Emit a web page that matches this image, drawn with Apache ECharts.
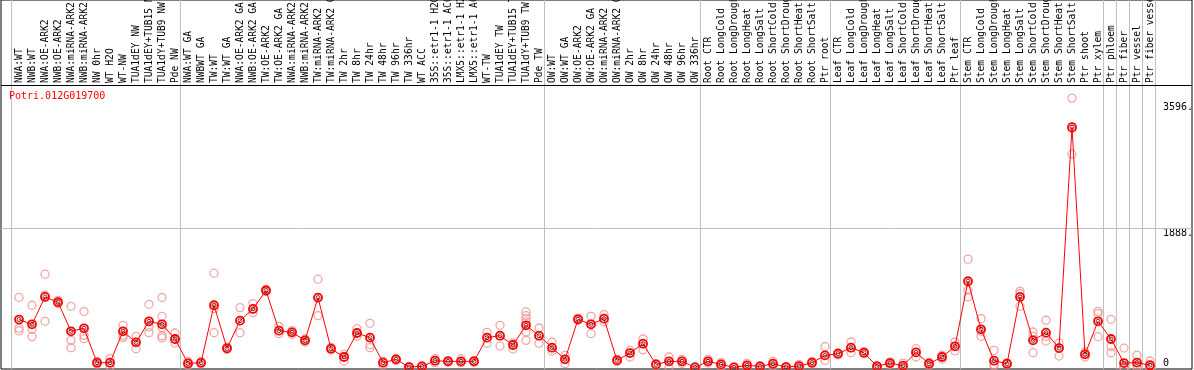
<!DOCTYPE html>
<html>
<head>
<meta charset="utf-8">
<script src="https://cdn.jsdelivr.net/npm/echarts@6/dist/echarts.min.js"></script>
<style>
  html, body { margin: 0; padding: 0; background: #fff; }
  #chart { width: 1194px; height: 370px; }
</style>
</head>
<body>
<div id="chart"></div>
<script>
var geneName = 'Potri.012G019700';

var labels = [
  'NWA:WT', 'NWB:WT', 'NWA:OE-ARK2', 'NWB:OE-ARK2', 'NWA:miRNA-ARK2', 'NWB:miRNA-ARK2',
  'NW 0hr', 'WT H2O', 'WT-NW', 'TUA1dEY NW', 'TUA1dEY+TUB15 NW', 'TUA1dY+TUB9 NW', 'Pde NW',
  'NWA:WT GA', 'NWBWT GA', 'TW:WT', 'TW:WT GA', 'NWA:OE-ARK2 GA', 'NWB:OE-ARK2 GA',
  'TW:OE-ARK2', 'TW:OE-ARK2 GA', 'NWA:miRNA-ARK2 GA', 'NWB:miRNA-ARK2 GA', 'TW:miRNA-ARK2',
  'TW:miRNA-ARK2 GA', 'TW 2hr', 'TW 8hr', 'TW 24hr', 'TW 48hr', 'TW 96hr', 'TW 336hr', 'WT ACC',
  '35S::etr1-1 H2O', '35S::etr1-1 ACC', 'LMX5::etr1-1 H2O', 'LMX5::etr1-1 ACC', 'WT-TW',
  'TUA1dEY TW', 'TUA1dEY+TUB15 TW', 'TUA1dY+TUB9 TW', 'Pde TW',
  'OW:WT', 'OW:WT GA', 'OW:OE-ARK2', 'OW:OE-ARK2 GA', 'OW:miRNA-ARK2', 'OW:miRNA-ARK2 GA',
  'OW 2hr', 'OW 8hr', 'OW 24hr', 'OW 48hr', 'OW 96hr', 'OW 336hr',
  'Root CTR', 'Root LongCold', 'Root LongDrought', 'Root LongHeat', 'Root LongSalt',
  'Root ShortCold', 'Root ShortDrought', 'Root ShortHeat', 'Root ShortSalt', 'Ptr root',
  'Leaf CTR', 'Leaf LongCold', 'Leaf LongDrought', 'Leaf LongHeat', 'Leaf LongSalt',
  'Leaf ShortCold', 'Leaf ShortDrought', 'Leaf ShortHeat', 'Leaf ShortSalt', 'Ptr leaf',
  'Stem CTR', 'Stem LongCold', 'Stem LongDrought', 'Stem LongHeat', 'Stem LongSalt',
  'Stem ShortCold', 'Stem ShortDrought', 'Stem ShortHeat', 'Stem ShortSalt', 'Ptr shoot',
  'Ptr xylem', 'Ptr phloem', 'Ptr fiber', 'Ptr vessel', 'Ptr fiber vessel'
];

// samples per experiment block (vertical separators)
var groupSizes = [13, 28, 12, 10, 10, 11, 1, 1, 1, 1];

var means = [
  650, 585, 957, 885, 490, 531, 64, 64, 490, 340, 626, 585, 386,
  54, 64, 844, 259, 635, 794, 1044, 499, 476, 367, 948, 254, 141, 467, 404, 64, 109, 5, 14,
  91, 82, 82, 82, 404, 431, 304, 572, 431,
  268, 109, 653, 585, 662, 95, 195, 322, 41, 82, 82, 0,
  82, 41, 0, 27, 14, 50, 5, 18, 64, 163,
  186, 268, 200, 14, 59, 23, 204, 50, 141, 286,
  1170, 517, 91, 50, 957, 367, 472, 263, 3262, 177, 626,
  386, 59, 66, 29
];

var reps = [
  [950, 530, 495], [844, 517, 418], [1266, 980, 626], [910, 870, 880], [830, 367, 268],
  [758, 435, 390], [80, 60, 45], [118, 60, 14], [572, 435, 408], [422, 340, 254],
  [857, 549, 472], [949, 694, 540, 430, 400], [467, 386, 331],
  [80, 54, 27], [75, 64, 50], [1279, 799, 472], [275, 259, 245], [812, 635, 472],
  [867, 794, 744], [1060, 1044, 1030], [558, 499, 458], [500, 476, 450], [390, 367, 345],
  [1198, 948, 703], [270, 254, 240], [177, 141, 86], [526, 467, 422], [599, 309, 268],
  [86, 64, 27], [120, 109, 95], [10, 5, 0], [20, 14, 8], [118, 91, 64], [95, 82, 70],
  [118, 82, 64], [95, 82, 70], [476, 404, 327], [572, 431, 290], [331, 304, 249],
  [753, 703, 662, 617, 481, 367], [535, 431, 327],
  [345, 268, 222], [163, 109, 50], [670, 653, 640], [694, 585, 458], [717, 662, 617],
  [110, 95, 80], [231, 195, 141], [386, 322, 240], [50, 41, 30], [141, 82, 5],
  [110, 82, 55], [10, 0, 0],
  [110, 82, 60], [65, 41, 20], [5, 0, 0], [55, 27, 10], [25, 14, 5], [82, 50, 18],
  [10, 5, 0], [40, 18, 5], [80, 64, 50], [281, 163, 95],
  [200, 186, 170], [345, 268, 200], [215, 200, 185], [25, 14, 5], [75, 59, 40],
  [59, 23, 0], [254, 204, 141], [70, 50, 30], [165, 141, 110], [345, 286, 222],
  [1470, 1048, 957], [662, 490, 422], [231, 40, 20], [60, 50, 40], [1034, 1000, 830],
  [481, 420, 200], [640, 420, 358], [330, 263, 154], [3657, 3240, 2895], [209, 177, 141],
  [761, 730, 417],
  [653, 281, 199], [263, 0, 0, 0], [168, 30, 0], [87, 0, 0]
];

var yTicks = [0, 1888, 3596];

// layout (pixels)
var W = 1194, gridL = 1, gridR = 2, gridT = 0, gridB = 1;
var colW = 13, firstX = 19, sepShift = 8;
var zeroY = 367.4, perPx = 13.58, headerY = 85;

var xMin = (gridL - firstX) / colW;
var xMax = (W - gridR - firstX) / colW;
var yMax = (zeroY - gridT) * perPx;
var yMin = -((370 - gridB) - zeroY) * perPx;
var headerVal = (zeroY - headerY) * perPx;

var meanData = means.map(function (v, i) { return [i, v]; });
var repData = [];
reps.forEach(function (arr, i) {
  arr.forEach(function (v) { repData.push([i, v]); });
});

var sepLines = [];
var acc = 0;
sepLines.push({ xAxis: acc - sepShift / colW });
groupSizes.forEach(function (n) {
  acc += n;
  sepLines.push({ xAxis: acc - sepShift / colW });
});
sepLines.push({ yAxis: 1888 });
sepLines.push({ yAxis: headerVal, lineStyle: { color: '#000' } });

var mono = '"DejaVu Sans Mono", "Liberation Mono", monospace';

var chart = echarts.init(document.getElementById('chart'));
var option = {
  animation: false,
  backgroundColor: '#fff',
  title: {
    text: geneName,
    left: 9,
    top: 91,
    padding: 0,
    textStyle: { color: '#ff0000', fontSize: 10, fontWeight: 'normal', fontFamily: mono }
  },
  grid: {
    left: gridL, right: gridR, top: gridT, bottom: gridB,
    show: true, borderColor: '#000', borderWidth: 1, backgroundColor: 'transparent',
    containLabel: false, outerBoundsMode: 'none'
  },
  xAxis: [{
    type: 'value', position: 'bottom', min: xMin, max: xMax,
    axisLine: { show: false }, axisTick: { show: false },
    axisLabel: { show: false }, splitLine: { show: false }
  }, {
    type: 'value', position: 'top', offset: -headerY, min: xMin, max: xMax,
    axisLine: { show: false }, axisTick: { show: false }, splitLine: { show: false },
    axisLabel: {
      customValues: labels.map(function (s, i) { return i; }),
      formatter: function (v) { return labels[Math.round(v)]; },
      rotate: -90, margin: 2, fontSize: 9.6, fontFamily: mono, color: '#000',
      hideOverlap: false
    }
  }],
  yAxis: {
    type: 'value', position: 'right', min: yMin, max: yMax,
    axisLine: { show: false }, axisTick: { show: false }, splitLine: { show: false },
    axisLabel: {
      inside: true, margin: 29, align: 'left',
      customValues: yTicks,
      formatter: function (v) {
        if (v === 0) return '{lo|0}';
        return '{hi|' + v + '.}';
      },
      rich: {
        hi: { fontSize: 10, fontFamily: mono, color: '#000', padding: [10, 0, 0, 0] },
        lo: { fontSize: 10, fontFamily: mono, color: '#000', padding: [0, 0, 8, 0] }
      }
    }
  },
  series: [{
    name: 'replicates',
    type: 'scatter',
    data: repData,
    symbol: 'circle',
    symbolSize: 8,
    itemStyle: { color: 'rgba(0,0,0,0)', borderColor: '#f09090', borderWidth: 1.3 },
    z: 2,
    markLine: {
      silent: true, symbol: 'none', label: { show: false },
      lineStyle: { color: '#c0c0c0', type: 'solid', width: 1 },
      data: sepLines,
      z: 1
    }
  }, {
    name: geneName,
    type: 'line',
    data: meanData,
    symbol: 'circle',
    symbolSize: 8,
    showAllSymbol: true,
    lineStyle: { color: '#ff0000', width: 1 },
    itemStyle: { color: 'rgba(0,0,0,0)', borderColor: '#ff0000', borderWidth: 1.8 },
    z: 3
  }, {
    name: 'mean core',
    type: 'scatter',
    data: meanData,
    symbol: 'circle',
    symbolSize: 4,
    itemStyle: { color: 'rgba(0,0,0,0)', borderColor: '#5a0000', borderWidth: 1 },
    z: 4
  }]
};
chart.setOption(option);
</script>
</body>
</html>
